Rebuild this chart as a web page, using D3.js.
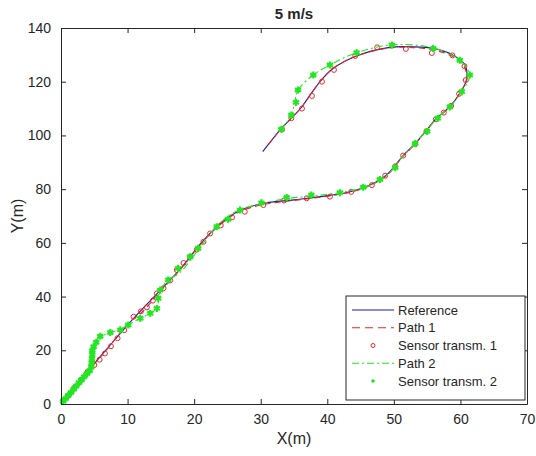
<!DOCTYPE html>
<html lang="en">
<head>
<meta charset="UTF-8">
<title>5 m/s</title>
<script src="https://cdn.jsdelivr.net/npm/d3@7"></script>
<style>
  body {margin: 0; background: #fff;}
  text {font-family: "Liberation Sans", Arial, Helvetica, sans-serif; fill: #262626;}
  .axis path, .axis line {stroke: #262626;}
</style>
</head>
<body>
<script>

// reference trajectory
var refX = [0, 3.3, 6.9, 10, 14, 18, 21, 24, 27, 30.4, 35, 39, 43.4, 46.4, 48.9, 51.4, 53.2, 54.9, 56.4, 58.4, 59.9, 60.9, 60.7, 58.9, 55.9, 52.9, 49.4, 44.4, 40.9, 39.1, 37.6, 36.1, 34.6, 32.9, 30.3];
var refY = [0, 10.2, 20.5, 29.4, 40, 50.5, 59.8, 67.3, 72.2, 74.7, 76, 77.2, 79, 81.5, 85.3, 92.5, 97, 102, 106.4, 110.7, 115.7, 120.6, 126.2, 129.9, 132.4, 133, 132.8, 129.6, 125, 120.6, 115.7, 110.4, 106.4, 102, 94];

// path 1
var p1X = [0, 3.3, 6.9, 10, 12.5, 14.4, 18, 21, 24, 27, 30.4, 35, 39, 43.4, 46.4, 48.9, 51.4, 53.2, 54.9, 56.4, 58.4, 59.9, 60.9, 60.5, 58.7, 55.9, 52.9, 49.4, 44.4, 40.9, 39.1, 37.6, 36.1, 34.6, 32.9, 31];
var p1Y = [0, 10, 20.3, 29.8, 35, 40.5, 50.3, 59.5, 67, 71.8, 74.3, 75.8, 77, 78.8, 81.3, 85, 92.3, 96.8, 101.8, 106.2, 110.6, 115.6, 120.8, 126, 129.6, 131.8, 132.7, 132.6, 129.6, 125, 120.6, 115.7, 110.4, 106.4, 102, 96];

// sensor transmissions 1
var s1X = [1, 2, 3, 4, 5, 5.8, 6.6, 7.5, 8.5, 9.5, 10.9, 12, 12.9, 13.8, 14.4, 15.4, 16.4, 17.4, 18.4, 19.4, 20.4, 21.4, 22.4, 24, 25.7, 27.6, 30.4, 33.5, 36.9, 40.4, 43.6, 46.7, 48.7, 50.2, 51.4, 53.2, 54.9, 56.3, 57.5, 58.6, 59.8, 60.8, 60.6, 58.8, 55.7, 51.8, 47.5, 44.2, 41, 39.2, 37.7, 36.2, 34.6, 33.2];
var s1Y = [3, 6, 9, 12, 14.5, 16.5, 18.8, 21.5, 24.5, 27.5, 32.5, 34.5, 36, 38.5, 41.2, 43.1, 46, 49.9, 52.5, 54.8, 57.5, 60.4, 63.5, 66.5, 69.5, 71.6, 74.1, 75.8, 76.6, 77.2, 79, 81.5, 85, 88.5, 92.5, 96.7, 101.6, 106, 108.5, 111, 115.5, 120.6, 125.8, 129.8, 130.7, 132.2, 132.8, 129.6, 124.4, 120, 114.7, 110, 106.4, 102.2];

// path 2
var p2X = [0, 2, 3.5, 4.5, 4.65, 4.8, 5.6, 7.4, 8.9, 10.1, 11.9, 13.4, 14.4, 14.7, 15, 16.1, 17.9, 20.5, 23.5, 26.5, 30, 34, 38, 42, 46, 48.8, 51.3, 53.2, 55, 56.5, 58.4, 60.2, 61.4, 59.9, 55.9, 49.7, 44.4, 40.4, 37.9, 35.6, 35.1, 34.6, 33.1];
var p2Y = [0, 6, 10.5, 13, 17, 21, 24.5, 26.6, 27.6, 29.5, 31.9, 33.8, 35.6, 39.4, 42.4, 46.2, 49, 57, 66.5, 72, 74.5, 76.5, 77.5, 78.8, 81, 84.8, 92, 97, 102, 106.5, 110.6, 116.3, 122.5, 128, 132.6, 133.7, 130.8, 126.2, 122.5, 116.9, 112.5, 107.6, 102.3];

// sensor transmissions 2
var s2X = [0.3, 0.7, 1.1, 1.5, 1.9, 2.3, 2.7, 3.1, 3.5, 3.9, 4.3, 4.55, 4.6, 4.65, 4.7, 4.7, 4.9, 5.3, 5.9, 7.4, 8.9, 10.1, 11.9, 13.4, 14.4, 14.6, 14.9, 16.1, 17.6, 19.4, 20.6, 23.4, 25.1, 26.9, 30.1, 33.9, 37.6, 41.9, 45.4, 47.9, 50.2, 53.2, 55, 56.6, 58.4, 60.2, 61.4, 59.9, 55.9, 49.7, 44.4, 40.4, 37.9, 35.6, 35.3, 34.6, 33.1];
var s2Y = [1, 2, 3.2, 4.3, 5.5, 6.7, 7.9, 9, 10.2, 11.3, 12.4, 13.8, 15.3, 16.8, 18.3, 19.8, 21.3, 23, 25.2, 26.6, 27.6, 29.4, 31.9, 33.8, 35.6, 39.4, 42.4, 46.2, 50.5, 54.8, 58, 66, 68.8, 72.2, 74.9, 76.9, 77.8, 78.7, 80.7, 83.6, 88, 97, 101.5, 106.4, 110.6, 116.3, 122.5, 128, 132.4, 133.7, 130.8, 126.2, 122.5, 116.9, 112.3, 107.6, 102.3];

var xTicks = [0, 10, 20, 30, 40, 50, 60, 70];
var yTicks = [0, 20, 40, 60, 80, 100, 120, 140];
var legendNames = ["Reference", "Path 1", "Sensor transm. 1", "Path 2", "Sensor transm. 2"];

var w = 536, h = 456;
var padL = 61, padR = 527, padT = 28, padB = 404;

var blue = "#1c1c9a", red = "#e8282c", green = "#22e622";

var svg = d3.select("body").append("svg")
    .attr("width", w)
    .attr("height", h);

var x = d3.scaleLinear().domain([0, 70]).range([padL, padR]);
var y = d3.scaleLinear().domain([0, 140]).range([padB, padT]);

function zip(a, b) { return a.map(function(d, i) { return [d, b[i]]; }); }

var line = d3.line()
    .x(function(d) { return x(d[0]); })
    .y(function(d) { return y(d[1]); })
    .curve(d3.curveCatmullRom.alpha(0.5));

var plot = svg.append("g");

// reference
plot.append("path")
    .datum(zip(refX, refY))
    .attr("d", line)
    .attr("fill", "none")
    .attr("stroke", blue)
    .attr("stroke-width", 1.1);

// path 1
plot.append("path")
    .datum(zip(p1X, p1Y))
    .attr("d", line)
    .attr("fill", "none")
    .attr("stroke", red)
    .attr("stroke-width", 1.1)
    .attr("stroke-dasharray", "6,4");

// sensor 1
plot.selectAll("circle.s1")
    .data(zip(s1X, s1Y))
    .enter()
    .append("circle")
    .attr("class", "s1")
    .attr("cx", function(d) { return x(d[0]); })
    .attr("cy", function(d) { return y(d[1]); })
    .attr("r", 2.5)
    .attr("fill", "none")
    .attr("stroke", red)
    .attr("stroke-width", 1);

// path 2
plot.append("path")
    .datum(zip(p2X, p2Y))
    .attr("d", line)
    .attr("fill", "none")
    .attr("stroke", green)
    .attr("stroke-width", 1.1)
    .attr("stroke-dasharray", "7,3,2,3");

// sensor 2
var star = d3.symbol().type(d3.symbolAsterisk).size(34);
plot.selectAll("path.s2")
    .data(zip(s2X, s2Y))
    .enter()
    .append("path")
    .attr("class", "s2")
    .attr("d", star)
    .attr("transform", function(d) { return "translate(" + x(d[0]) + "," + y(d[1]) + ")"; })
    .attr("fill", "none")
    .attr("stroke", green)
    .attr("stroke-width", 2.2);

// axes (matlab box, inward ticks)
svg.append("g").attr("class", "axis")
    .attr("transform", "translate(0," + padB + ")")
    .call(d3.axisBottom(x).tickValues(xTicks).tickSizeInner(-5).tickSizeOuter(0).tickPadding(10))
    .call(function(g) { g.selectAll("text").attr("font-size", 14); });

svg.append("g").attr("class", "axis")
    .attr("transform", "translate(0," + padT + ")")
    .call(d3.axisTop(x).tickValues(xTicks).tickSizeInner(-5).tickSizeOuter(0).tickFormat(""));

svg.append("g").attr("class", "axis")
    .attr("transform", "translate(" + padL + ",0)")
    .call(d3.axisLeft(y).tickValues(yTicks).tickSizeInner(-5).tickSizeOuter(0).tickPadding(10))
    .call(function(g) { g.selectAll("text").attr("font-size", 14); });

svg.append("g").attr("class", "axis")
    .attr("transform", "translate(" + padR + ",0)")
    .call(d3.axisRight(y).tickValues(yTicks).tickSizeInner(-5).tickSizeOuter(0).tickFormat(""));

svg.selectAll(".axis text").attr("font-family", null).attr("fill", "#262626");

// title and labels
svg.append("text")
    .attr("x", (padL + padR) / 2)
    .attr("y", 19)
    .attr("text-anchor", "middle")
    .attr("font-size", 15)
    .attr("font-weight", "bold")
    .attr("fill", "#000")
    .text("5 m/s");

svg.append("text")
    .attr("x", (padL + padR) / 2)
    .attr("y", 444)
    .attr("text-anchor", "middle")
    .attr("font-size", 16)
    .text("X(m)");

svg.append("text")
    .attr("transform", "translate(23," + ((padT + padB) / 2) + ") rotate(-90)")
    .attr("text-anchor", "middle")
    .attr("font-size", 16)
    .text("Y(m)");

// legend
var lg = svg.append("g").attr("transform", "translate(346,296)");
lg.append("rect")
    .attr("width", 179)
    .attr("height", 104)
    .attr("fill", "#fff")
    .attr("stroke", "#262626")
    .attr("stroke-width", 1);

var rowY = d3.scalePoint().domain(legendNames).range([14, 85]);

function row(name) { return lg.append("g").attr("transform", "translate(0," + rowY(name) + ")"); }

row("Reference").append("line").attr("x1", 6).attr("x2", 48).attr("stroke", blue).attr("stroke-width", 1.1);
row("Path 1").append("line").attr("x1", 6).attr("x2", 48).attr("stroke", red).attr("stroke-width", 1.1).attr("stroke-dasharray", "8,5");
row("Sensor transm. 1").append("circle").attr("cx", 27).attr("r", 2).attr("fill", "none").attr("stroke", red);
row("Path 2").append("line").attr("x1", 6).attr("x2", 48).attr("stroke", green).attr("stroke-width", 1.1).attr("stroke-dasharray", "7,3,2,3");
row("Sensor transm. 2").append("circle").attr("cx", 27).attr("r", 1.8).attr("fill", green);

lg.selectAll("text")
    .data(legendNames)
    .enter()
    .append("text")
    .attr("x", 52)
    .attr("y", function(d) { return rowY(d) + 4.5; })
    .attr("font-size", 13)
    .attr("fill", "#000")
    .text(function(d) { return d; });

</script>
</body>
</html>
